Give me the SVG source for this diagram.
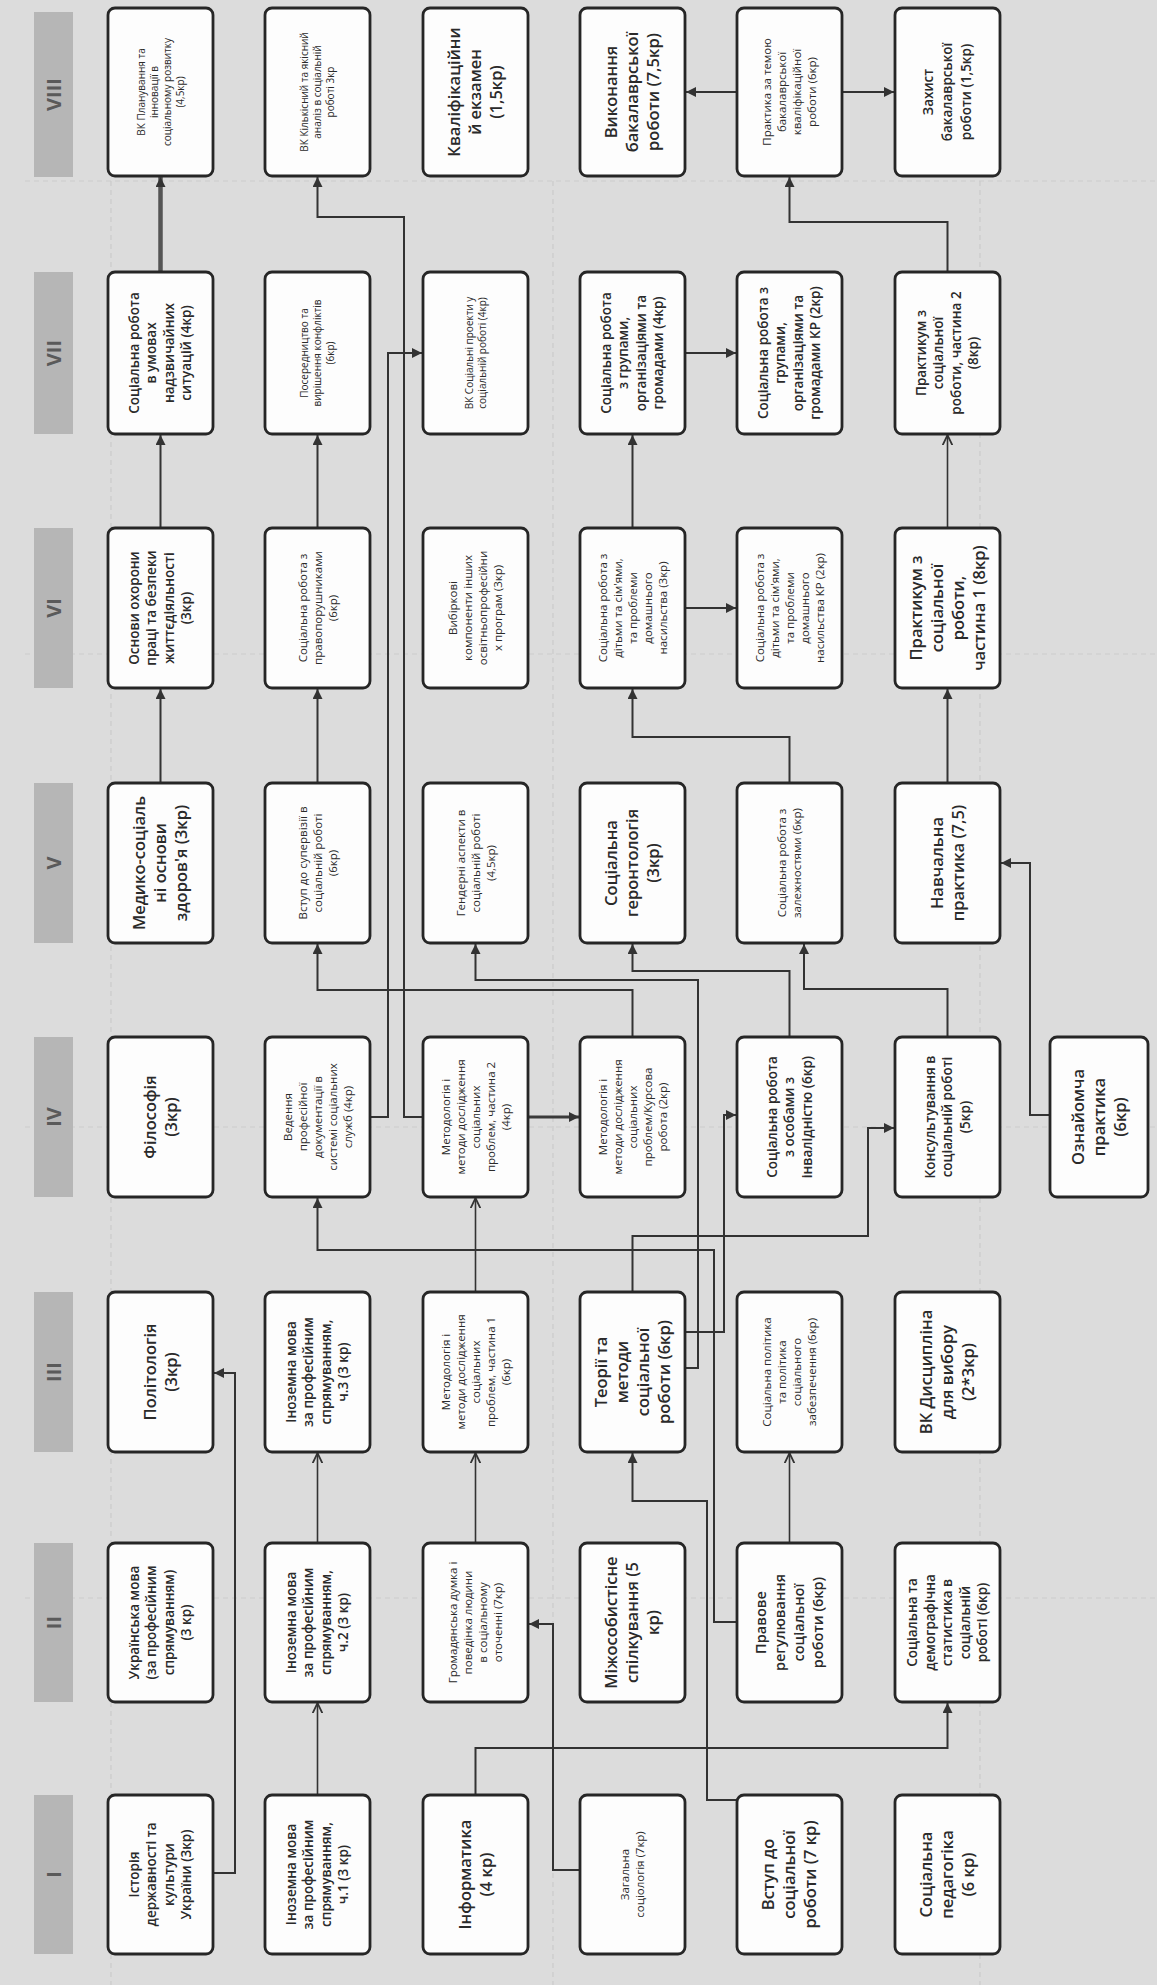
<svg xmlns="http://www.w3.org/2000/svg" width="1157" height="1985" viewBox="0 0 1157 1985">
<defs>
<style>
.bg{fill:#dcdcdc}
.grid{stroke:#cbcbcb;stroke-width:1.2;stroke-dasharray:5 4;fill:none}
.hdrbar{fill:#b6b6b6}
.hdr{font-family:"Open Sans","DejaVu Sans",sans-serif;font-size:20px;font-weight:700;fill:#5a5a5a;text-anchor:middle}
.node{fill:#fdfdfd;stroke:#262626;stroke-width:2.8}
text.t{font-family:"Open Sans","DejaVu Sans",sans-serif;fill:#2a2a2a;text-anchor:middle}
.tL{font-size:16.5px;font-weight:600}
.tM{font-size:13.5px;font-weight:600}
.tS{font-size:11.5px;font-weight:500}
.tXS{font-size:10px;font-weight:500}
.light{fill:#707070}
.c{fill:none;stroke:#333;stroke-width:2;marker-end:url(#af)}
.co{fill:none;stroke:#333;stroke-width:1.6;marker-end:url(#ao)}
.thick{fill:none;stroke:#555;stroke-width:4.5;marker-end:url(#af)}
.med{fill:none;stroke:#3a3a3a;stroke-width:3.2;marker-end:url(#af)}
</style>
<marker id="af" viewBox="0 0 10 10" refX="10" refY="5" markerWidth="11" markerHeight="10" markerUnits="userSpaceOnUse" orient="auto">
<path d="M0,0 L10,5 L0,10 z" fill="#333"/>
</marker>
<marker id="ao" viewBox="0 0 10 10" refX="9.5" refY="5" markerWidth="11" markerHeight="11" markerUnits="userSpaceOnUse" orient="auto">
<path d="M0,0.5 L9.5,5 L0,9.5" fill="none" stroke="#333" stroke-width="1.6"/>
</marker>
</defs>
<rect class="bg" x="0" y="0" width="1157" height="1985"/>
<g id="grid">
<path class="grid" d="M25,181 H1157 M25,654 H1157 M25,1127 H1157 M25,1598 H1157"/>
<path class="grid" d="M111,181 V1985 M553,181 V1985 M980,181 V1985"/>
</g>
<g id="headers">
<rect class="hdrbar" x="34" y="12" width="39" height="165"/><text class="hdr" transform="translate(60.5 94.5) rotate(-90)">VIII</text>
<rect class="hdrbar" x="34" y="272" width="39" height="162"/><text class="hdr" transform="translate(60.5 353) rotate(-90)">VII</text>
<rect class="hdrbar" x="34" y="528" width="39" height="160"/><text class="hdr" transform="translate(60.5 608) rotate(-90)">VI</text>
<rect class="hdrbar" x="34" y="783" width="39" height="160"/><text class="hdr" transform="translate(60.5 863) rotate(-90)">V</text>
<rect class="hdrbar" x="34" y="1037" width="39" height="160"/><text class="hdr" transform="translate(60.5 1117) rotate(-90)">IV</text>
<rect class="hdrbar" x="34" y="1292" width="39" height="160"/><text class="hdr" transform="translate(60.5 1372) rotate(-90)">III</text>
<rect class="hdrbar" x="34" y="1543" width="39" height="159"/><text class="hdr" transform="translate(60.5 1622.5) rotate(-90)">II</text>
<rect class="hdrbar" x="34" y="1795" width="39" height="159"/><text class="hdr" transform="translate(60.5 1874.5) rotate(-90)">I</text>
</g>
<g id="connectors">
<path class="thick" d="M160.5,272 V177"/>
<path class="c" d="M737,92 H686"/>
<path class="c" d="M842,92 H894"/>
<path class="c" d="M947.5,272 V222 H789.5 V177"/>
<path class="c" d="M423,1117 H404 V217 H317.5 V177"/>
<path class="c" d="M370,1117 H388 V353 H422"/>
<path class="c" d="M685,353 H736"/>
<path class="c" d="M160.5,528 V435"/>
<path class="c" d="M317.5,528 V435"/>
<path class="c" d="M632.5,528 V435"/>
<path class="co" d="M947.5,528 V435"/>
<path class="c" d="M685,608 H736"/>
<path class="c" d="M160.5,783 V689"/>
<path class="c" d="M317.5,783 V689"/>
<path class="c" d="M789.5,783 V737 H632.5 V689"/>
<path class="c" d="M947.5,783 V689"/>
<path class="c" d="M632.5,1037 V990 H317.5 V944"/>
<path class="c" d="M685,1368 H698 V980 H475.5 V944"/>
<path class="c" d="M789.5,1037 V971 H632.5 V944"/>
<path class="c" d="M947.5,1037 V989 H804 V944"/>
<path class="c" d="M1050,1115 H1030 V863 H1001"/>
<path class="med" d="M528,1117 H579"/>
<path class="co" d="M475.5,1292 V1198"/>
<path class="c" d="M737,1622 H714 V1250 H317.5 V1198"/>
<path class="c" d="M685,1332 H724 V1115 H736"/>
<path class="c" d="M632.5,1292 V1236 H868 V1128 H894"/>
<path class="c" d="M213,1873 H235 V1373 H214"/>
<path class="co" d="M317.5,1543 V1453"/>
<path class="co" d="M317.5,1795 V1703"/>
<path class="co" d="M475.5,1543 V1453"/>
<path class="c" d="M580,1870 H553 V1624 H529"/>
<path class="c" d="M475.5,1795 V1748 H947.5 V1703"/>
<path class="c" d="M737,1800 H707 V1501 H632.5 V1453"/>
<path class="co" d="M789.5,1543 V1453"/>
</g>

<g id="n8-1"><rect class="node" x="108" y="8" width="105" height="168" rx="7"/><text class="t tXS" transform="translate(160.5 92) rotate(-90)"><tspan x="0" y="-16">ВК Планування та</tspan><tspan x="0" y="-3">інновації в</tspan><tspan x="0" y="10">соціальному розвитку</tspan><tspan x="0" y="23">(4,5кр)</tspan></text></g>
<g id="n8-2"><rect class="node" x="265" y="8" width="105" height="168" rx="7"/><text class="t tXS" transform="translate(317.5 92) rotate(-90)"><tspan x="0" y="-9.5">ВК Кількісний та якісний</tspan><tspan x="0" y="3.5">аналіз в соціальній</tspan><tspan x="0" y="16.5">роботі 3кр</tspan></text></g>
<g id="n8-3"><rect class="node" x="423" y="8" width="105" height="168" rx="7"/><text class="t tL" transform="translate(475.5 92) rotate(-90)"><tspan x="0" y="-15.2">Кваліфікаційни</tspan><tspan x="0" y="5.8">й екзамен</tspan><tspan x="0" y="26.8">(1,5кр)</tspan></text></g>
<g id="n8-4"><rect class="node" x="580" y="8" width="105" height="168" rx="7"/><text class="t tL" transform="translate(632.5 92) rotate(-90)"><tspan x="0" y="-15.2">Виконання</tspan><tspan x="0" y="5.8">бакалаврської</tspan><tspan x="0" y="26.8">роботи (7,5кр)</tspan></text></g>
<g id="n8-5"><rect class="node" x="737" y="8" width="105" height="168" rx="7"/><text class="t tS" transform="translate(789.5 92) rotate(-90)"><tspan x="0" y="-18.5">Практика за темою</tspan><tspan x="0" y="-3.5">бакалаврської</tspan><tspan x="0" y="11.5">кваліфікаційної</tspan><tspan x="0" y="26.5">роботи (6кр)</tspan></text></g>
<g id="n8-6"><rect class="node" x="895" y="8" width="105" height="168" rx="7"/><text class="t tM" transform="translate(947.5 92) rotate(-90)"><tspan x="0" y="-14.3">Захист</tspan><tspan x="0" y="4.7">бакалаврської</tspan><tspan x="0" y="23.7">роботи (1,5кр)</tspan></text></g>

<g id="n7-1"><rect class="node" x="108" y="272" width="105" height="162" rx="7"/><text class="t tM" transform="translate(160.5 353) rotate(-90)"><tspan x="0" y="-21.55">Соціальна робота</tspan><tspan x="0" y="-4.05">в умовах</tspan><tspan x="0" y="13.45">надзвичайних</tspan><tspan x="0" y="30.95">ситуацій (4кр)</tspan></text></g>
<g id="n7-2"><rect class="node" x="265" y="272" width="105" height="162" rx="7"/><text class="t tXS" transform="translate(317.5 353) rotate(-90)"><tspan x="0" y="-9.5">Посередництво та</tspan><tspan x="0" y="3.5">вирішення конфліктів</tspan><tspan x="0" y="16.5">(6кр)</tspan></text></g>
<g id="n7-3"><rect class="node" x="423" y="272" width="105" height="162" rx="7"/><text class="t tXS" transform="translate(475.5 353) rotate(-90)"><tspan x="0" y="-3">ВК Соціальні проекти у</tspan><tspan x="0" y="10">соціальній роботі (4кр)</tspan></text></g>
<g id="n7-4"><rect class="node" x="580" y="272" width="105" height="162" rx="7"/><text class="t tM" transform="translate(632.5 353) rotate(-90)"><tspan x="0" y="-21.55">Соціальна робота</tspan><tspan x="0" y="-4.05">з групами,</tspan><tspan x="0" y="13.45">організаціями та</tspan><tspan x="0" y="30.95">громадами (4кр)</tspan></text></g>
<g id="n7-5"><rect class="node" x="737" y="272" width="105" height="162" rx="7"/><text class="t tM light" transform="translate(789.5 353) rotate(-90)"><tspan x="0" y="-21.55">Соціальна робота з</tspan><tspan x="0" y="-4.05">групами,</tspan><tspan x="0" y="13.45">організаціями та</tspan><tspan x="0" y="30.95">громадами КР (2кр)</tspan></text></g>
<g id="n7-6"><rect class="node" x="895" y="272" width="105" height="162" rx="7"/><text class="t tM" transform="translate(947.5 353) rotate(-90)"><tspan x="0" y="-21.55">Практикум з</tspan><tspan x="0" y="-4.05">соціальної</tspan><tspan x="0" y="13.45">роботи, частина 2</tspan><tspan x="0" y="30.95">(8кр)</tspan></text></g>

<g id="n6-1"><rect class="node" x="108" y="528" width="105" height="160" rx="7"/><text class="t tM" transform="translate(160.5 608) rotate(-90)"><tspan x="0" y="-21.55">Основи охорони</tspan><tspan x="0" y="-4.05">праці та безпеки</tspan><tspan x="0" y="13.45">життєдіяльності</tspan><tspan x="0" y="30.95">(3кр)</tspan></text></g>
<g id="n6-2"><rect class="node" x="265" y="528" width="105" height="160" rx="7"/><text class="t tS" transform="translate(317.5 608) rotate(-90)"><tspan x="0" y="-11">Соціальна робота з</tspan><tspan x="0" y="4">правопорушниками</tspan><tspan x="0" y="19">(6кр)</tspan></text></g>
<g id="n6-3"><rect class="node" x="423" y="528" width="105" height="160" rx="7"/><text class="t tS" transform="translate(475.5 608) rotate(-90)"><tspan x="0" y="-18.5">Вибіркові</tspan><tspan x="0" y="-3.5">компоненти інших</tspan><tspan x="0" y="11.5">освітньопрофесійни</tspan><tspan x="0" y="26.5">х програм (3кр)</tspan></text></g>
<g id="n6-4"><rect class="node" x="580" y="528" width="105" height="160" rx="7"/><text class="t tS" transform="translate(632.5 608) rotate(-90)"><tspan x="0" y="-26">Соціальна робота з</tspan><tspan x="0" y="-11">дітьми та  сім'ями,</tspan><tspan x="0" y="4">та проблеми</tspan><tspan x="0" y="19">домашнього</tspan><tspan x="0" y="34">насильства (3кр)</tspan></text></g>
<g id="n6-5"><rect class="node" x="737" y="528" width="105" height="160" rx="7"/><text class="t tS" transform="translate(789.5 608) rotate(-90)"><tspan x="0" y="-26">Соціальна робота з</tspan><tspan x="0" y="-11">дітьми та  сім'ями,</tspan><tspan x="0" y="4">та проблеми</tspan><tspan x="0" y="19">домашнього</tspan><tspan x="0" y="34">насильства КР (2кр)</tspan></text></g>
<g id="n6-6"><rect class="node" x="895" y="528" width="105" height="160" rx="7"/><text class="t tL" transform="translate(947.5 608) rotate(-90)"><tspan x="0" y="-25.7">Практикум з</tspan><tspan x="0" y="-4.7">соціальної</tspan><tspan x="0" y="16.3">роботи,</tspan><tspan x="0" y="37.3">частина 1 (8кр)</tspan></text></g>

<g id="n5-1"><rect class="node" x="108" y="783" width="105" height="160" rx="7"/><text class="t tL" transform="translate(160.5 863) rotate(-90)"><tspan x="0" y="-15.2">Медико-соціаль</tspan><tspan x="0" y="5.8">ні основи</tspan><tspan x="0" y="26.8">здоров'я (3кр)</tspan></text></g>
<g id="n5-2"><rect class="node" x="265" y="783" width="105" height="160" rx="7"/><text class="t tS" transform="translate(317.5 863) rotate(-90)"><tspan x="0" y="-11">Вступ до супервізії в</tspan><tspan x="0" y="4">соціальній роботі</tspan><tspan x="0" y="19">(6кр)</tspan></text></g>
<g id="n5-3"><rect class="node" x="423" y="783" width="105" height="160" rx="7"/><text class="t tS" transform="translate(475.5 863) rotate(-90)"><tspan x="0" y="-11">Гендерні аспекти в</tspan><tspan x="0" y="4">соціальній роботі</tspan><tspan x="0" y="19">(4,5кр)</tspan></text></g>
<g id="n5-4"><rect class="node" x="580" y="783" width="105" height="160" rx="7"/><text class="t tL" transform="translate(632.5 863) rotate(-90)"><tspan x="0" y="-15.2">Соціальна</tspan><tspan x="0" y="5.8">геронтологія</tspan><tspan x="0" y="26.8">(3кр)</tspan></text></g>
<g id="n5-5"><rect class="node" x="737" y="783" width="105" height="160" rx="7"/><text class="t tS" transform="translate(789.5 863) rotate(-90)"><tspan x="0" y="-3.5">Соціальна робота з</tspan><tspan x="0" y="11.5">залежностями  (6кр)</tspan></text></g>
<g id="n5-6"><rect class="node" x="895" y="783" width="105" height="160" rx="7"/><text class="t tL" transform="translate(947.5 863) rotate(-90)"><tspan x="0" y="-4.7">Навчальна</tspan><tspan x="0" y="16.3">практика (7,5)</tspan></text></g>

<g id="n4-1"><rect class="node" x="108" y="1037" width="105" height="160" rx="7"/><text class="t tL" transform="translate(160.5 1117) rotate(-90)"><tspan x="0" y="-4.7">Філософія</tspan><tspan x="0" y="16.3">(3кр)</tspan></text></g>
<g id="n4-2"><rect class="node" x="265" y="1037" width="105" height="160" rx="7"/><text class="t tS" transform="translate(317.5 1117) rotate(-90)"><tspan x="0" y="-26">Ведення</tspan><tspan x="0" y="-11">професійної</tspan><tspan x="0" y="4">документації в</tspan><tspan x="0" y="19">системі соціальних</tspan><tspan x="0" y="34">служб (4кр)</tspan></text></g>
<g id="n4-3"><rect class="node" x="423" y="1037" width="105" height="160" rx="7"/><text class="t tS" transform="translate(475.5 1117) rotate(-90)"><tspan x="0" y="-26">Методологія і</tspan><tspan x="0" y="-11">методи дослідження</tspan><tspan x="0" y="4">соціальних</tspan><tspan x="0" y="19">проблем, частина 2</tspan><tspan x="0" y="34">(4кр)</tspan></text></g>
<g id="n4-4"><rect class="node" x="580" y="1037" width="105" height="160" rx="7"/><text class="t tS" transform="translate(632.5 1117) rotate(-90)"><tspan x="0" y="-26">Методологія і</tspan><tspan x="0" y="-11">методи дослідження</tspan><tspan x="0" y="4">соціальних</tspan><tspan x="0" y="19">проблем/Курсова</tspan><tspan x="0" y="34">робота (2кр)</tspan></text></g>
<g id="n4-5"><rect class="node" x="737" y="1037" width="105" height="160" rx="7"/><text class="t tM" transform="translate(789.5 1117) rotate(-90)"><tspan x="0" y="-12.8">Соціальна робота</tspan><tspan x="0" y="4.7">з особами з</tspan><tspan x="0" y="22.2">інвалідністю (6кр)</tspan></text></g>
<g id="n4-6"><rect class="node" x="895" y="1037" width="105" height="160" rx="7"/><text class="t tM" transform="translate(947.5 1117) rotate(-90)"><tspan x="0" y="-12.8">Консультування в</tspan><tspan x="0" y="4.7">соціальній роботі</tspan><tspan x="0" y="22.2">(5кр)</tspan></text></g>
<g id="n4-7"><rect class="node" x="1050" y="1037" width="98" height="160" rx="7"/><text class="t tL" transform="translate(1099 1117) rotate(-90)"><tspan x="0" y="-15.2">Ознайомча</tspan><tspan x="0" y="5.8">практика</tspan><tspan x="0" y="26.8">(6кр)</tspan></text></g>

<g id="n3-1"><rect class="node" x="108" y="1292" width="105" height="160" rx="7"/><text class="t tL" transform="translate(160.5 1372) rotate(-90)"><tspan x="0" y="-4.7">Політологія</tspan><tspan x="0" y="16.3">(3кр)</tspan></text></g>
<g id="n3-2"><rect class="node" x="265" y="1292" width="105" height="160" rx="7"/><text class="t tM" transform="translate(317.5 1372) rotate(-90)"><tspan x="0" y="-21.55">Іноземна  мова</tspan><tspan x="0" y="-4.05">за професійним</tspan><tspan x="0" y="13.45">спрямуванням,</tspan><tspan x="0" y="30.95">ч.3 (3 кр)</tspan></text></g>
<g id="n3-3"><rect class="node" x="423" y="1292" width="105" height="160" rx="7"/><text class="t tS" transform="translate(475.5 1372) rotate(-90)"><tspan x="0" y="-26">Методологія і</tspan><tspan x="0" y="-11">методи дослідження</tspan><tspan x="0" y="4">соціальних</tspan><tspan x="0" y="19">проблем, частина 1</tspan><tspan x="0" y="34">(6кр)</tspan></text></g>
<g id="n3-4"><rect class="node" x="580" y="1292" width="105" height="160" rx="7"/><text class="t tL" transform="translate(632.5 1372) rotate(-90)"><tspan x="0" y="-25.7">Теорії та</tspan><tspan x="0" y="-4.7">методи</tspan><tspan x="0" y="16.3">соціальної</tspan><tspan x="0" y="37.3">роботи (6кр)</tspan></text></g>
<g id="n3-5"><rect class="node" x="737" y="1292" width="105" height="160" rx="7"/><text class="t tS" transform="translate(789.5 1372) rotate(-90)"><tspan x="0" y="-18.5">Соціальна політика</tspan><tspan x="0" y="-3.5">та політика</tspan><tspan x="0" y="11.5">соціального</tspan><tspan x="0" y="26.5">забезпечення (6кр)</tspan></text></g>
<g id="n3-6"><rect class="node" x="895" y="1292" width="105" height="160" rx="7"/><text class="t tL" transform="translate(947.5 1372) rotate(-90)"><tspan x="0" y="-15.2">ВК Дисципліна</tspan><tspan x="0" y="5.8">для вибору</tspan><tspan x="0" y="26.8">(2*3кр)</tspan></text></g>

<g id="n2-1"><rect class="node" x="108" y="1543" width="105" height="159" rx="7"/><text class="t tM" transform="translate(160.5 1622.5) rotate(-90)"><tspan x="0" y="-21.55">Українська  мова</tspan><tspan x="0" y="-4.05">(за професійним</tspan><tspan x="0" y="13.45">спрямуванням)</tspan><tspan x="0" y="30.95">(3 кр)</tspan></text></g>
<g id="n2-2"><rect class="node" x="265" y="1543" width="105" height="159" rx="7"/><text class="t tM" transform="translate(317.5 1622.5) rotate(-90)"><tspan x="0" y="-21.55">Іноземна  мова</tspan><tspan x="0" y="-4.05">за професійним</tspan><tspan x="0" y="13.45">спрямуванням,</tspan><tspan x="0" y="30.95">ч.2 (3 кр)</tspan></text></g>
<g id="n2-3"><rect class="node" x="423" y="1543" width="105" height="159" rx="7"/><text class="t tS" transform="translate(475.5 1622.5) rotate(-90)"><tspan x="0" y="-18.5">Громадянська думка і</tspan><tspan x="0" y="-3.5">поведінка людини</tspan><tspan x="0" y="11.5">в соціальному</tspan><tspan x="0" y="26.5">оточенні (7кр)</tspan></text></g>
<g id="n2-4"><rect class="node" x="580" y="1543" width="105" height="159" rx="7"/><text class="t tL" transform="translate(632.5 1622.5) rotate(-90)"><tspan x="0" y="-15.2">Міжособистісне</tspan><tspan x="0" y="5.8">спілкування (5</tspan><tspan x="0" y="26.8">кр)</tspan></text></g>
<g id="n2-5"><rect class="node" x="737" y="1543" width="105" height="159" rx="7"/><text class="t tM" style="font-size:14.5px" transform="translate(789.5 1622.5) rotate(-90)"><tspan x="0" y="-23.5">Правове</tspan><tspan x="0" y="-4.5">регулювання</tspan><tspan x="0" y="14.5">соціальної</tspan><tspan x="0" y="33.5">роботи (6кр)</tspan></text></g>
<g id="n2-6"><rect class="node" x="895" y="1543" width="105" height="159" rx="7"/><text class="t tM" transform="translate(947.5 1622.5) rotate(-90)"><tspan x="0" y="-30.3">Соціальна   та</tspan><tspan x="0" y="-12.8">демографічна</tspan><tspan x="0" y="4.7">статистика в</tspan><tspan x="0" y="22.2">соціальній</tspan><tspan x="0" y="39.7">роботі (6кр)</tspan></text></g>

<g id="n1-1"><rect class="node" x="108" y="1795" width="105" height="159" rx="7"/><text class="t tM" transform="translate(160.5 1874.5) rotate(-90)"><tspan x="0" y="-21.55">Історія</tspan><tspan x="0" y="-4.05">державності та</tspan><tspan x="0" y="13.45">культури</tspan><tspan x="0" y="30.95">України (3кр)</tspan></text></g>
<g id="n1-2"><rect class="node" x="265" y="1795" width="105" height="159" rx="7"/><text class="t tM" transform="translate(317.5 1874.5) rotate(-90)"><tspan x="0" y="-21.55">Іноземна  мова</tspan><tspan x="0" y="-4.05">за професійним</tspan><tspan x="0" y="13.45">спрямуванням,</tspan><tspan x="0" y="30.95">ч.1 (3 кр)</tspan></text></g>
<g id="n1-3"><rect class="node" x="423" y="1795" width="105" height="159" rx="7"/><text class="t tL" transform="translate(475.5 1874.5) rotate(-90)"><tspan x="0" y="-4.7">Інформатика</tspan><tspan x="0" y="16.3">(4 кр)</tspan></text></g>
<g id="n1-4"><rect class="node" x="580" y="1795" width="105" height="159" rx="7"/><text class="t tS" transform="translate(632.5 1874.5) rotate(-90)"><tspan x="0" y="-3.5">Загальна</tspan><tspan x="0" y="11.5">соціологія (7кр)</tspan></text></g>
<g id="n1-5"><rect class="node" x="737" y="1795" width="105" height="159" rx="7"/><text class="t tL" transform="translate(789.5 1874.5) rotate(-90)"><tspan x="0" y="-15.2">Вступ до</tspan><tspan x="0" y="5.8">соціальної</tspan><tspan x="0" y="26.8">роботи (7 кр)</tspan></text></g>
<g id="n1-6"><rect class="node" x="895" y="1795" width="105" height="159" rx="7"/><text class="t tL" transform="translate(947.5 1874.5) rotate(-90)"><tspan x="0" y="-15.2">Соціальна</tspan><tspan x="0" y="5.8">педагогіка</tspan><tspan x="0" y="26.8">(6 кр)</tspan></text></g>
</svg>
